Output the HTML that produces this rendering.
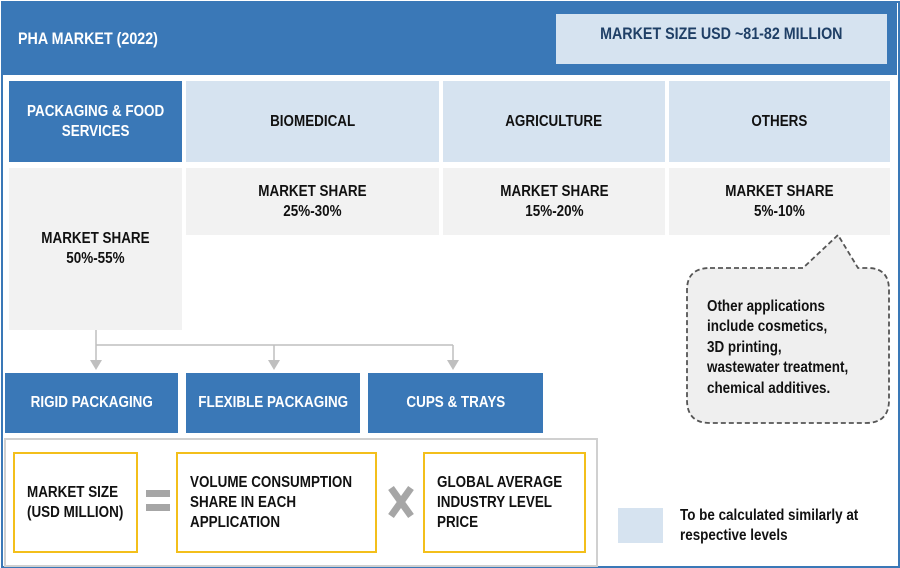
<!DOCTYPE html>
<html><head><style>
body{margin:0;width:900px;height:568px;position:relative;background:#fff;font-family:"Liberation Sans",sans-serif;font-weight:bold;overflow:hidden}
div.b{position:absolute;display:flex;align-items:center;justify-content:center;text-align:center;box-sizing:border-box;font-size:16px;line-height:20px}
.n{display:inline-block;transform:scaleX(0.84);white-space:nowrap}
.l .n{transform-origin:left center}
.blue{background:#3a78b7;color:#fff}
.lb{background:#d6e3f0;color:#111}
.gr{background:#f2f2f2;color:#111}
.y{border:2px solid #f3bf1b;background:#fff;color:#111;justify-content:flex-start!important;text-align:left!important;padding-left:12px}
</style></head><body>
<div style="position:absolute;left:1px;top:1px;width:895px;height:563px;border:2px solid #3a78b7"></div>
<div class="b blue l" style="left:3px;top:3px;width:894px;height:72px;justify-content:flex-start;padding-left:15px;font-size:17px"><span class="n">PHA MARKET (2022)</span></div>
<div class="b lb" style="left:556px;top:14px;width:331px;height:50px;color:#1f3f66;font-size:17px;align-items:flex-start;padding-top:10px"><span class="n">MARKET SIZE USD ~81-82 MILLION</span></div>

<div class="b blue" style="left:9px;top:81px;width:173px;height:81px"><span class="n">PACKAGING &amp; FOOD<br>SERVICES</span></div>
<div class="b lb" style="left:186px;top:81px;width:253px;height:81px"><span class="n">BIOMEDICAL</span></div>
<div class="b lb" style="left:443px;top:81px;width:222px;height:81px"><span class="n">AGRICULTURE</span></div>
<div class="b lb" style="left:669px;top:81px;width:221px;height:81px"><span class="n">OTHERS</span></div>

<div class="b gr" style="left:9px;top:168px;width:173px;height:162px"><span class="n">MARKET SHARE<br>50%-55%</span></div>
<div class="b gr" style="left:186px;top:168px;width:253px;height:67px;align-items:flex-start;padding-top:14px"><span class="n">MARKET SHARE<br>25%-30%</span></div>
<div class="b gr" style="left:443px;top:168px;width:222px;height:67px;align-items:flex-start;padding-top:14px"><span class="n">MARKET SHARE<br>15%-20%</span></div>
<div class="b gr" style="left:669px;top:168px;width:221px;height:67px;align-items:flex-start;padding-top:14px"><span class="n">MARKET SHARE<br>5%-10%</span></div>

<svg style="position:absolute;left:0;top:0" width="900" height="568">
<g stroke="#bfbfbf" stroke-width="1.5" fill="none">
<path d="M96 330V362M96 345H453M274 345V362M453 345V362"/></g>
<g fill="#bfbfbf"><path d="M90 360h12l-6 10z"/><path d="M268 360h12l-6 10z"/><path d="M447 360h12l-6 10z"/></g>
<path d="M710 268 H803 L838 235 L858 268 H868 Q889 268 889 290 V400 Q889 423 866 423 H710 Q687 423 687 400 V290 Q687 268 710 268 Z" fill="#efefef" stroke="#555" stroke-width="1.8" stroke-dasharray="5,3"/>
<rect x="5" y="439" width="592" height="127" fill="none" stroke="#d0d0d0" stroke-width="2"/>
<g fill="#a6a6a6"><rect x="146" y="490" width="24" height="7"/><rect x="146" y="504" width="24" height="7"/></g>
<path d="M391 488L411 516M411 488L391 516" stroke="#a6a6a6" stroke-width="7"/>
<rect x="618" y="508" width="45" height="35" fill="#d6e3f0"/>
</svg>

<div class="b l" style="left:707px;top:296px;width:180px;height:104px;justify-content:flex-start;text-align:left;line-height:20.5px;color:#111"><span class="n">Other applications<br>include cosmetics,<br>3D printing,<br>wastewater treatment,<br>chemical additives.</span></div>

<div class="b blue" style="left:5px;top:373px;width:173px;height:60px"><span class="n">RIGID PACKAGING</span></div>
<div class="b blue" style="left:186px;top:373px;width:174px;height:60px"><span class="n">FLEXIBLE PACKAGING</span></div>
<div class="b blue" style="left:368px;top:373px;width:175px;height:60px"><span class="n">CUPS &amp; TRAYS</span></div>

<div class="b y l" style="left:13px;top:452px;width:125px;height:101px"><span class="n">MARKET SIZE<br>(USD MILLION)</span></div>
<div class="b y l" style="left:176px;top:452px;width:201px;height:101px"><span class="n">VOLUME CONSUMPTION<br>SHARE IN EACH<br>APPLICATION</span></div>
<div class="b y l" style="left:423px;top:452px;width:163px;height:101px"><span class="n">GLOBAL AVERAGE<br>INDUSTRY LEVEL<br>PRICE</span></div>
<div class="b l" style="left:680px;top:505px;width:210px;height:42px;justify-content:flex-start;text-align:left;color:#111"><span class="n">To be calculated similarly at<br>respective levels</span></div>
</body></html>
